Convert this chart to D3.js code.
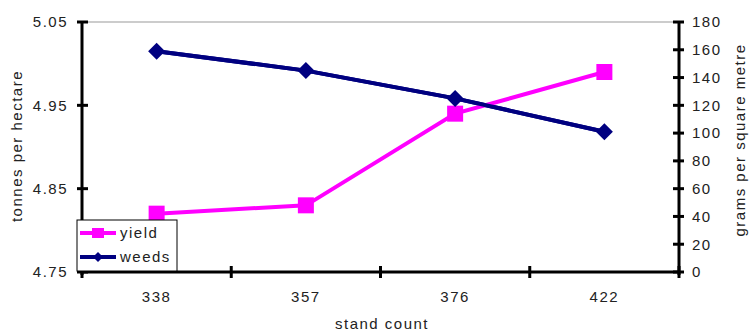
<!DOCTYPE html>
<html>
<head>
<meta charset="utf-8">
<script src="https://cdn.jsdelivr.net/npm/d3@7/dist/d3.min.js"></script>
<style>
  html, body { margin: 0; padding: 0; background: #fff; }
  svg text { font-family: "Liberation Sans", Arial, sans-serif; font-size: 15px; letter-spacing: 1.5px; fill: #222; }
</style>
</head>
<body>
<svg id="chart" width="750" height="332"></svg>
<script>
// Stand count categories and the two measured series
const categories = ["338", "357", "376", "422"];
const yieldValues = [4.82, 4.83, 4.94, 4.99];   // tonnes per hectare
const weedValues = [159, 145, 125, 101];        // grams per square metre
const leftTicks = [4.75, 4.85, 4.95, 5.05];
const rightTicks = [0, 20, 40, 60, 80, 100, 120, 140, 160, 180];

const svg = d3.select("#chart");
const plot = { left: 82, right: 679, top: 22, bottom: 272 };

const x = d3.scaleBand().domain(categories).range([plot.left, plot.right]).padding(0);
const yL = d3.scaleLinear().domain([4.75, 5.05]).range([plot.bottom, plot.top]);
const yR = d3.scaleLinear().domain([0, 180]).range([plot.bottom, plot.top]);
const cx = c => x(c) + x.bandwidth() / 2;

// Thin top border
svg.append("line")
  .attr("x1", plot.left).attr("x2", plot.right)
  .attr("y1", plot.top).attr("y2", plot.top)
  .attr("stroke", "#999").attr("stroke-width", 1);

// Left axis
const gL = svg.append("g").attr("transform", `translate(${plot.left},0)`)
  .call(d3.axisLeft(yL).tickValues(leftTicks).tickFormat(d3.format(".2f")).tickSize(0).tickPadding(14));
gL.select(".domain").remove();
gL.append("line").attr("x1", 0).attr("x2", 0).attr("y1", plot.top).attr("y2", plot.bottom + 3)
  .attr("stroke", "#000").attr("stroke-width", 3);
gL.selectAll(".tk").data(leftTicks).enter().append("line")
  .attr("x1", -5).attr("x2", 6).attr("y1", d => yL(d)).attr("y2", d => yL(d))
  .attr("stroke", "#000").attr("stroke-width", 3);

// Right axis
const gR = svg.append("g").attr("transform", `translate(${plot.right},0)`)
  .call(d3.axisRight(yR).tickValues(rightTicks).tickFormat(d3.format("d")).tickSize(0).tickPadding(13));
gR.select(".domain").remove();
gR.append("line").attr("x1", 0).attr("x2", 0).attr("y1", plot.top).attr("y2", plot.bottom + 3)
  .attr("stroke", "#000").attr("stroke-width", 3);
gR.selectAll(".tk").data(rightTicks).enter().append("line")
  .attr("x1", -6).attr("x2", 5).attr("y1", d => yR(d)).attr("y2", d => yR(d))
  .attr("stroke", "#000").attr("stroke-width", 3);

// Bottom axis
const gB = svg.append("g").attr("transform", `translate(0,${plot.bottom})`)
  .call(d3.axisBottom(x).tickSize(0).tickPadding(19));
gB.select(".domain").remove();
gB.append("line").attr("x1", plot.left).attr("x2", plot.right).attr("y1", 0).attr("y2", 0)
  .attr("stroke", "#000").attr("stroke-width", 3);
const bounds = categories.map(c => x(c)).concat([plot.right]);
gB.selectAll(".tk").data(bounds).enter().append("line")
  .attr("x1", d => d).attr("x2", d => d).attr("y1", -6).attr("y2", 6)
  .attr("stroke", "#000").attr("stroke-width", 3);
svg.selectAll(".tick text").attr("fill", "#222");

// Axis titles
svg.append("text").attr("x", 382).attr("y", 329).attr("text-anchor", "middle").text("stand count");
svg.append("text").attr("transform", "translate(22,146) rotate(-90)").attr("text-anchor", "middle").text("tonnes per hectare");
svg.append("text").attr("transform", "translate(745,140) rotate(-90)").attr("text-anchor", "middle").text("grams per square metre");

// Series lines
const lineL = d3.line().x((d, i) => cx(categories[i])).y(d => yL(d));
const lineR = d3.line().x((d, i) => cx(categories[i])).y(d => yR(d));
const magenta = "#ff00ff", navy = "#000080";

svg.append("path").datum(weedValues).attr("d", lineR)
  .attr("fill", "none").attr("stroke", navy).attr("stroke-width", 4);
svg.append("path").datum(yieldValues).attr("d", lineL)
  .attr("fill", "none").attr("stroke", magenta).attr("stroke-width", 4);
svg.append("path").datum(weedValues).attr("d", lineR)
  .attr("fill", "none").attr("stroke", navy).attr("stroke-width", 4);

const diamond = s => `M0,${-s}L${s},0L0,${s}L${-s},0Z`;
svg.selectAll(".sq").data(yieldValues).enter().append("rect")
  .attr("x", (d, i) => cx(categories[i]) - 8).attr("y", d => yL(d) - 8)
  .attr("width", 16).attr("height", 16).attr("fill", magenta);
svg.selectAll(".dm").data(weedValues).enter().append("path")
  .attr("transform", (d, i) => `translate(${cx(categories[i])},${yR(d)})`)
  .attr("d", diamond(8.5)).attr("fill", navy);

// Legend
const lg = svg.append("g").attr("transform", "translate(77,220)");
lg.append("rect").attr("x", 0).attr("y", 0).attr("width", 100).attr("height", 51)
  .attr("fill", "#fff").attr("stroke", "#000").attr("stroke-width", 1);
const items = [{ name: "yield", color: magenta, shape: "square" }, { name: "weeds", color: navy, shape: "diamond" }];
items.forEach((it, i) => {
  const yy = 13 + i * 24;
  lg.append("line").attr("x1", 3).attr("x2", 39).attr("y1", yy).attr("y2", yy)
    .attr("stroke", it.color).attr("stroke-width", 4);
  if (it.shape === "square") {
    lg.append("rect").attr("x", 15).attr("y", yy - 5).attr("width", 12).attr("height", 10).attr("fill", it.color);
  } else {
    lg.append("path").attr("transform", `translate(21,${yy})`).attr("d", diamond(5)).attr("fill", it.color);
  }
  lg.append("text").attr("x", 43).attr("y", yy + 5).text(it.name);
});
</script>
</body>
</html>
